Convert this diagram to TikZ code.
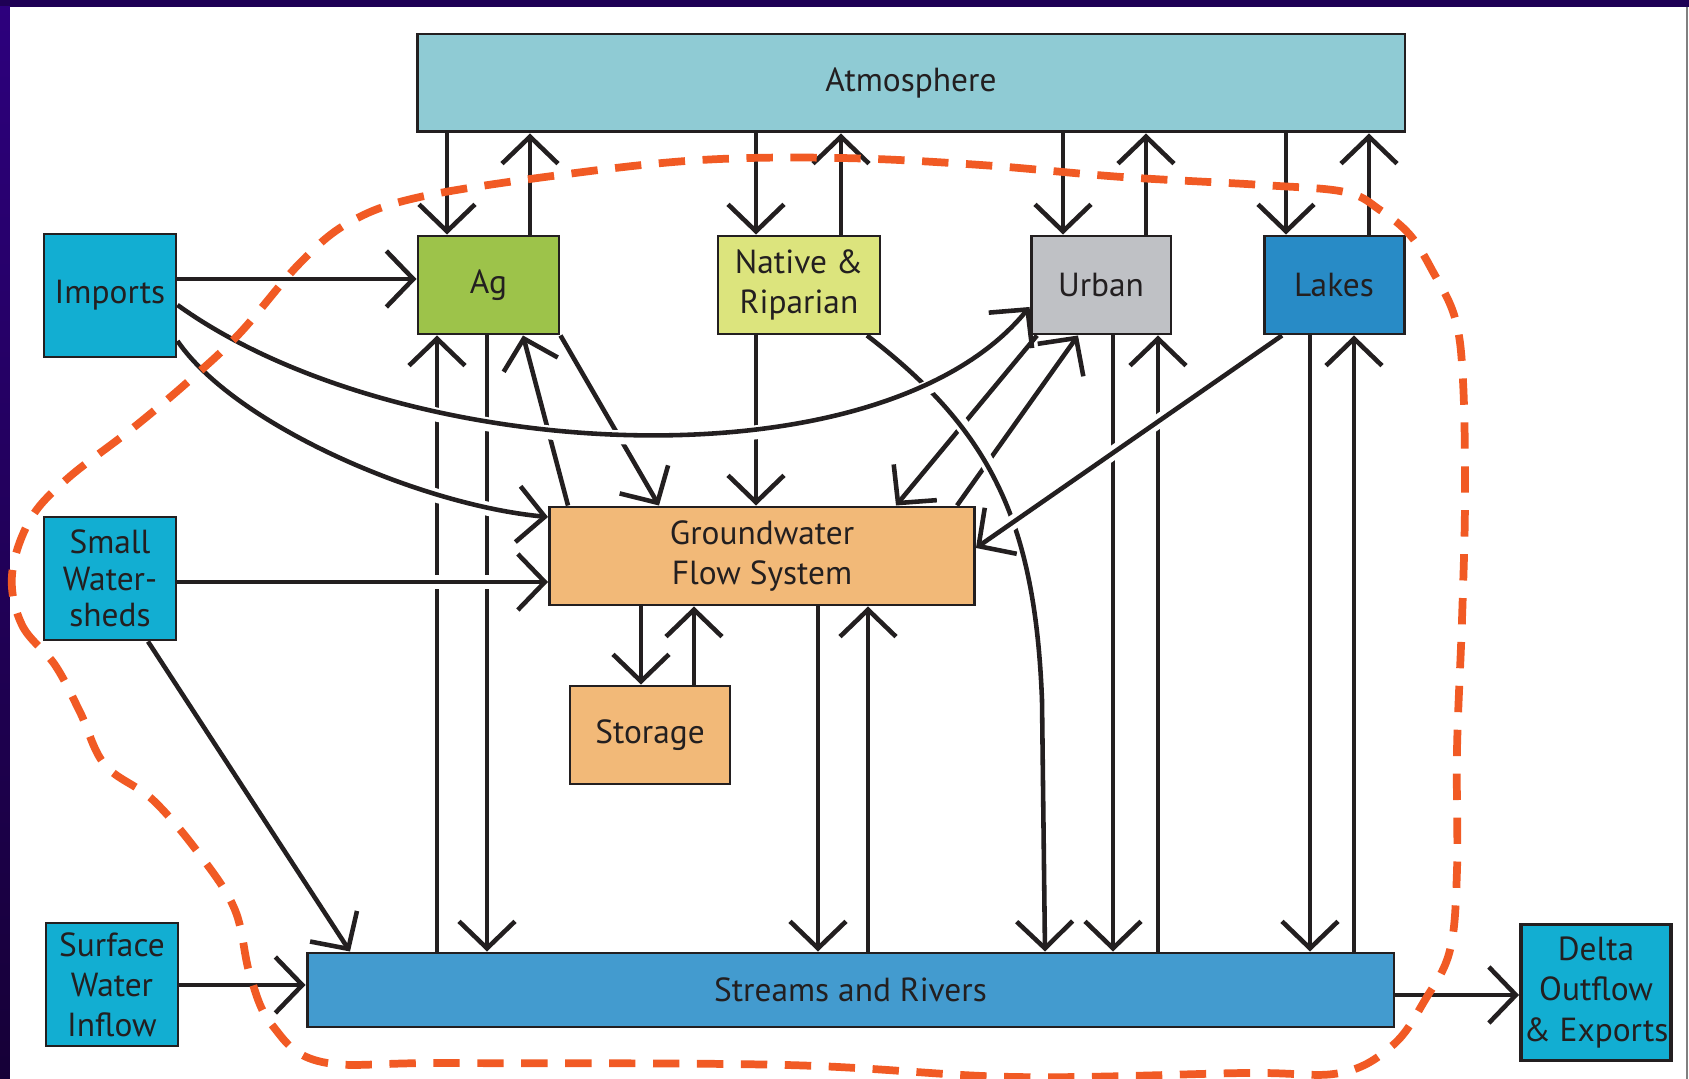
\documentclass[tikz,border=0pt]{standalone}
\usepackage{fontspec}
\setmainfont{PT Sans}
\usetikzlibrary{arrows.meta}

\definecolor{ink}{RGB}{35,31,32}
\definecolor{atmcol}{RGB}{143,203,212}
\definecolor{srccol}{RGB}{18,174,210}
\definecolor{agcol}{RGB}{157,195,74}
\definecolor{natcol}{RGB}{220,228,125}
\definecolor{urbcol}{RGB}{191,193,197}
\definecolor{lakecol}{RGB}{40,139,198}
\definecolor{gwcol}{RGB}{242,185,120}
\definecolor{rivcol}{RGB}{67,155,207}
\definecolor{bound}{RGB}{241,90,36}
\definecolor{frametop}{RGB}{30,0,85}
\definecolor{sidetop}{RGB}{45,0,125}
\definecolor{sidebot}{RGB}{22,0,55}

\begin{document}
\begin{tikzpicture}[x=0.1mm, y=0.1mm]
  \tikzstyle{every node}+=[inner sep=0pt, text=ink, align=center, font=\fontsize{9.5}{11.4}\selectfont]
  \tikzstyle{box}=[draw=ink, line width=0.85pt]
  \tikzstyle{flow}=[draw=ink, line width=1.3pt, -{Straight Barb[length=2.7mm,width=5.6mm]}]
  \tikzstyle{halo}=[preaction={draw=white, line width=4pt, -, shorten <=5pt, shorten >=5pt}]
  \tikzstyle{boundary}=[draw=bound, line width=2.2pt, dash pattern=on 7.5pt off 5pt]
  \useasboundingbox (0,0) rectangle (1689,-1079);

  % slide frame
  \fill[frametop] (0,0) rectangle (1689,-1079);
  \shade[top color=sidetop, bottom color=sidebot] (0,-7) rectangle (10,-1079);
  \fill[white] (10,-7) rectangle (1689,-1079);
  \draw[gray, line width=0.4pt] (1687,-7) -- (1687,-1079);

  % boxes
  \node (atm) [box, fill=atmcol, minimum width=9.88cm, minimum height=0.98cm] at (911,-83) {Atmosphere};
  \node (imports) [box, fill=srccol, minimum width=1.32cm, minimum height=1.23cm] at (110,-295.5) {Imports};
  \node (ag) [box, fill=agcol, minimum width=1.41cm, minimum height=0.98cm] at (488.5,-285) {Ag};
  \node (native) [box, fill=natcol, minimum width=1.62cm, minimum height=0.98cm] at (799,-285) {Native \&\\Riparian};
  \node (urban) [box, fill=urbcol, minimum width=1.40cm, minimum height=0.98cm] at (1101,-285) {Urban};
  \node (lakes) [box, fill=lakecol, minimum width=1.40cm, minimum height=0.98cm] at (1334,-285) {Lakes};
  \node (sw) [box, fill=srccol, minimum width=1.32cm, minimum height=1.23cm, font=\fontsize{9.5}{10.4}\selectfont] at (110,-578.5) {Small\\Water-\\sheds};
  \node (gw) [box, fill=gwcol, minimum width=4.25cm, minimum height=0.98cm] at (762,-556) {Groundwater\\Flow System};
  \node (storage) [box, fill=gwcol, minimum width=1.60cm, minimum height=0.98cm] at (650,-735) {Storage};
  \node (swi) [box, fill=srccol, minimum width=1.32cm, minimum height=1.23cm] at (112,-984.5) {Surface\\Water\\Inflow};
  \node (streams) [box, fill=rivcol, minimum width=10.87cm, minimum height=0.74cm] at (850.5,-990) {Streams and Rivers};
  \node (delta) [box, fill=srccol, line width=1.1pt, minimum width=1.50cm, minimum height=1.36cm] at (1596,-992.5) {Delta\\Outflow\\\& Exports};

  % exchanges with the atmosphere
  \draw[flow] (atm.south -| 447,0) -- (ag.north -| 447,0);
  \draw[flow] (ag.north -| 530,0) -- (atm.south -| 530,0);
  \draw[flow] (atm.south -| 756,0) -- (native.north -| 756,0);
  \draw[flow] (native.north -| 841,0) -- (atm.south -| 841,0);
  \draw[flow] (atm.south -| 1063,0) -- (urban.north -| 1063,0);
  \draw[flow] (urban.north -| 1146,0) -- (atm.south -| 1146,0);
  \draw[flow] (atm.south -| 1286,0) -- (lakes.north -| 1286,0);
  \draw[flow] (lakes.north -| 1369,0) -- (atm.south -| 1369,0);

  % land use and lakes to streams
  \draw[flow] (streams.north -| 437,0) -- (ag.south -| 437,0);
  \draw[flow] (ag.south -| 487,0) -- (streams.north -| 487,0);
  \draw[flow] (urban.south -| 1113,0) -- (streams.north -| 1113,0);
  \draw[flow] (streams.north -| 1158,0) -- (urban.south -| 1158,0);
  \draw[flow] (lakes.south -| 1310,0) -- (streams.north -| 1310,0);
  \draw[flow] (streams.north -| 1354,0) -- (lakes.south -| 1354,0);

  % groundwater
  \draw[flow] (native.south -| 756,0) -- (gw.north -| 756,0);
  \draw[flow] (ag.south east) -- (gw.north -| 659,0);
  \draw[flow] (gw.north -| 568,0) -- (ag.south -| 523,0);
  \draw[flow] (urban.south -| 1037,0) -- (gw.north -| 896,0);
  \draw[flow] (gw.north -| 957,0) -- (urban.south -| 1078,0);
  \draw[flow] (gw.south -| 641,0) -- (storage.north -| 641,0);
  \draw[flow] (storage.north -| 694,0) -- (gw.south -| 694,0);
  \draw[flow] (gw.south -| 818,0) -- (streams.north -| 818,0);
  \draw[flow] (streams.north -| 868,0) -- (gw.south -| 868,0);

  % inflows and outflow
  \draw[flow] (imports.east |- 0,-279) -- (ag.west |- 0,-279);
  \draw[flow] (sw.south -| 148,0) -- (streams.north -| 350,0);
  \draw[flow] (swi.east |- 0,-985) -- (streams.west |- 0,-985);
  \draw[flow] (streams.east |- 0,-995) -- (delta.west |- 0,-995);

  % these cross the others
  \draw[flow, halo] (native.south -| 867,0) .. controls (990,-430) and (1035,-520) .. (1042,-700) -- (streams.north -| 1045,0);
  \draw[flow, halo] (lakes.south -| 1282,0) -- (gw.east |- 0,-548);
  \draw[flow, halo] (sw.east |- 0,-582) -- (gw.west |- 0,-582);
  \draw[flow, halo] (imports.east |- 0,-341) .. controls (235,-425) and (420,-505) .. (gw.west |- 0,-517);
  \draw[flow, halo] (imports.east |- 0,-305) .. controls (400,-465) and (880,-490) .. (urban.west |- 0,-307);

  % model boundary
  \draw[boundary] plot[smooth cycle, tension=.6] coordinates {
    (12,-575) (22,-625) (55,-665) (80,-712) (105,-765) (153,-800) (200,-855)
    (235,-910) (250,-975) (272,-1025) (322,-1062) (450,-1063) (786,-1065)
    (1015,-1077) (1245,-1073) (1340,-1073) (1393,-1045) (1425,-1000)
    (1450,-950) (1457,-870) (1457,-750) (1462,-620) (1465,-500) (1463,-381)
    (1455,-318) (1432,-270) (1410,-235) (1380,-210) (1345,-192) (1262,-185)
    (1122,-177) (981,-165) (841,-158) (701,-160) (560,-175) (420,-197)
    (350,-222) (300,-263) (240,-333) (190,-380) (133,-428) (67,-479) (30,-520)};
\end{tikzpicture}
\end{document}
